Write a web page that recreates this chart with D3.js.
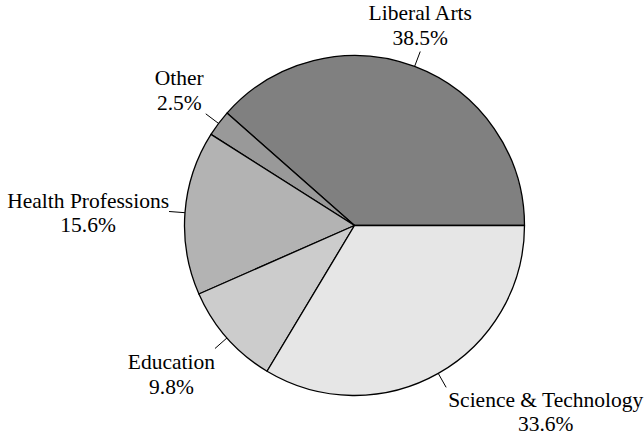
<!DOCTYPE html>
<html><head><meta charset="utf-8">
<script src="https://cdn.jsdelivr.net/npm/d3@7"></script>
<style>body{margin:0;background:#fff}svg{display:block}
text{font-family:"Liberation Serif","Times New Roman","DejaVu Serif",serif}</style>
</head><body>
<svg id="c" width="644" height="437"></svg>
<script>
const categories = ["Liberal Arts", "Other", "Health Professions", "Education", "Science & Technology"];
const values = [38.5, 2.5, 15.6, 9.8, 33.6];
const labels = ["38.5%", "2.5%", "15.6%", "9.8%", "33.6%"];
const colors = ["#808080", "#999999", "#b3b3b3", "#cccccc", "#e6e6e6"];
const placement = ["above", "upleft", "left", "downleft", "downright"];

const svg = d3.select("#c");
const cx = 354.5, cy = 225.5, R = 170, Rl = 186;
const fontSize = 21.5, lineH = 24.5;

const data = categories.map((c, i) => ({cat: c, value: values[i], label: labels[i], color: colors[i], place: placement[i]}));
const pie = d3.pie().sort(null).value(d => d.value)
  .startAngle(Math.PI / 2).endAngle(Math.PI / 2 - 2 * Math.PI);
const arcs = pie(data);
const arc = d3.arc().innerRadius(0).outerRadius(R);

const g = svg.append("g").attr("transform", `translate(${cx},${cy})`);
g.selectAll("path").data(arcs).enter().append("path")
  .attr("d", arc).attr("fill", d => d.data.color)
  .attr("stroke", "#000").attr("stroke-width", 1.3).attr("stroke-linejoin", "round");

function pt(a, r) { return [Math.sin(a) * r, -Math.cos(a) * r]; }

arcs.forEach(d => {
  const mid = (d.startAngle + d.endAngle) / 2;
  const p0 = pt(mid, R), p1 = pt(mid, Rl);
  g.append("line").attr("x1", p0[0]).attr("y1", p0[1]).attr("x2", p1[0]).attr("y2", p1[1])
    .attr("stroke", "#000").attr("stroke-width", 1);
  const t = g.append("text").attr("font-size", fontSize).attr("fill", "#000").attr("text-anchor", "middle");
  const l1 = t.append("tspan").text(d.data.cat);
  const l2 = t.append("tspan").text(d.data.label);
  const w = Math.max(l1.node().getComputedTextLength(), l2.node().getComputedTextLength());
  let xc, yb1;
  const asc = fontSize * 0.68;
  switch (d.data.place) {
    case "above": xc = p1[0]; yb1 = p1[1] - 7 - lineH; break;
    case "upleft": xc = p1[0] - w / 2 - 2; yb1 = p1[1] - 4 - lineH; break;
    case "left": xc = p1[0] - w / 2; yb1 = p1[1] - lineH / 2 + asc / 2 + 1; break;
    case "downleft": xc = p1[0] - w / 2; yb1 = p1[1] + 6 + asc; break;
    case "downright": xc = p1[0] + 2 + w / 2; yb1 = p1[1] + 5 + asc; break;
  }
  l1.attr("x", xc).attr("y", yb1);
  l2.attr("x", xc).attr("y", yb1 + lineH);
});
</script>
</body></html>
